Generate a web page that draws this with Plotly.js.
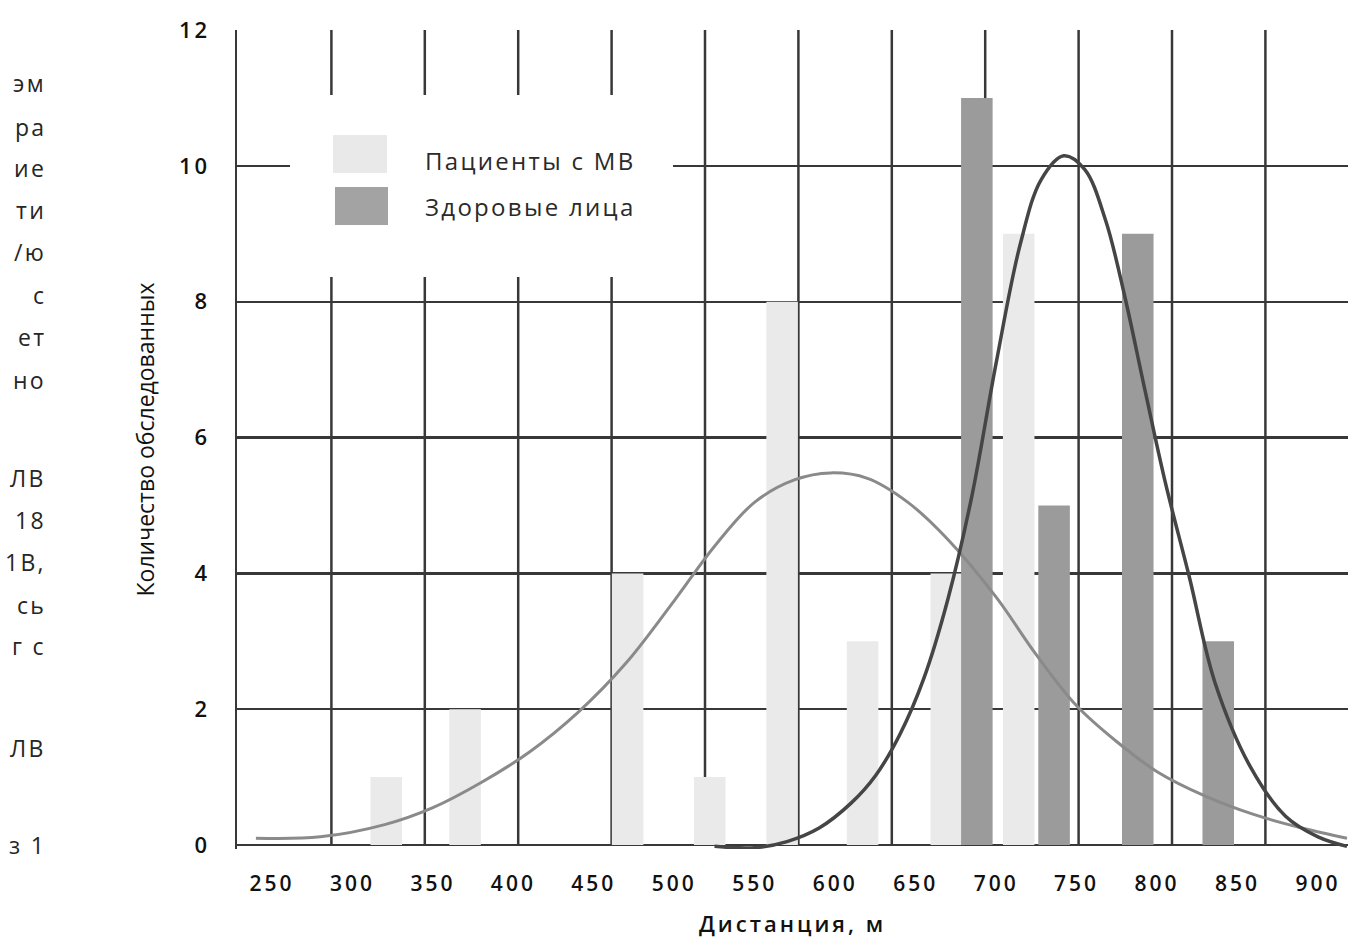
<!DOCTYPE html>
<html>
<head>
<meta charset="utf-8">
<script src="https://cdn.plot.ly/plotly-3.0.1.min.js"></script>
<style>
  html, body { margin: 0; padding: 0; background: #fff; }
  #chart { width: 1348px; height: 940px; }
  .xtick text, .ytick text { letter-spacing: 3px; }
  .g-xtitle text { letter-spacing: 3px; }
  .annotation-text { letter-spacing: 2.3px; }
</style>
</head>
<body>
<div id="chart"></div>
<script>
// ---- data ----
const patientsName = 'Пациенты с МВ';
const healthyName = 'Здоровые лица';

// histogram bars (distance, m  -> number of subjects)
const patientsBinX = [321, 370, 471, 522, 567, 617, 669, 714];
const patientsCount = [1, 2, 4, 1, 8, 3, 4, 9];
const healthyBinX = [688, 736, 788, 838];
const healthyCount = [11, 5, 9, 3];

// fitted distribution curves
const patientsCurveX = [240, 280, 320, 350, 380, 410, 440, 470, 500, 525, 550, 575, 597, 620, 645, 670, 700, 725, 750, 775, 800, 830, 860, 890, 918];
const patientsCurveY = [0.10, 0.12, 0.30, 0.55, 0.92, 1.37, 1.95, 2.68, 3.60, 4.40, 5.05, 5.38, 5.48, 5.40, 5.05, 4.50, 3.65, 2.80, 2.05, 1.52, 1.08, 0.72, 0.45, 0.25, 0.10];
const healthyCurveX = [525, 550, 570, 590, 610, 625, 640, 655, 670, 685, 700, 715, 728, 742, 755, 768, 780, 792, 805, 820, 836, 858, 880, 900, 918];
const healthyCurveY = [-0.02, -0.04, 0.05, 0.25, 0.62, 1.02, 1.62, 2.45, 3.62, 5.15, 7.1, 8.85, 9.8, 10.15, 9.95, 9.2, 8.07, 6.75, 5.35, 3.95, 2.39, 1.15, 0.42, 0.12, -0.02];

// axis ticks
const xTickVals = [250, 300, 350, 400, 450, 500, 550, 600, 650, 700, 750, 800, 850, 900];
const yTickVals = [0, 2, 4, 6, 8, 10, 12];

// cut-off text of the book page at the left edge
const pageFragments = ['эм', 'ра', 'ие', 'ти', '/ю', 'с', 'ет', 'но', 'ЛВ', '18', '1В,', 'сь', 'г с', 'ЛВ', 'з 1'];
const pageFragmentRows = [83, 127, 168, 210, 252, 295, 337, 380, 478, 520, 562, 605, 646, 748, 845];

// ---- styling ----
const GRID = '#383838';
const LIGHT = '#eaeaea';
const DARK = '#9b9b9b';
const FONT = '"Open Sans", "Noto Sans", sans-serif';
const BAR_W = 19.6;

const traces = [
  { type: 'bar', name: patientsName, x: patientsBinX, y: patientsCount, width: BAR_W,
    marker: { color: LIGHT, line: { width: 0 } }, showlegend: false, hoverinfo: 'x+y' },
  { type: 'bar', name: healthyName, x: healthyBinX, y: healthyCount, width: BAR_W,
    marker: { color: DARK, line: { width: 0 } }, showlegend: false, hoverinfo: 'x+y' },
  { type: 'scatter', mode: 'lines', name: patientsName + ' (кривая)', x: patientsCurveX, y: patientsCurveY,
    line: { color: '#8a8a8a', width: 3, shape: 'spline', smoothing: 1 }, showlegend: false },
  { type: 'scatter', mode: 'lines', name: healthyName + ' (кривая)', x: healthyCurveX, y: healthyCurveY,
    line: { color: '#454545', width: 3.5, shape: 'spline', smoothing: 1 }, showlegend: false }
];

// plot-area pixel helpers for the page furniture (grid, legend box, side text)
const L = 237, R = 1348, T = 30, B = 849;
const px = v => (v - L) / (R - L);
const py = v => (B - v) / (B - T);

// the drawn vertical grid does not follow the tick labels: it has its own spacing
const VGRID_START = 238, VGRID_STEP = 93.4, VGRID_COUNT = 12;
const shapes = [];
for (let k = 1; k < VGRID_COUNT; k++) {
  const gx = px(VGRID_START + k * VGRID_STEP);
  shapes.push({ type: 'line', xref: 'paper', yref: 'paper', x0: gx, x1: gx, y0: py(845), y1: 1,
    line: { color: GRID, width: 2.5 }, layer: 'below' });
}
shapes.push(
  { type: 'rect', xref: 'paper', yref: 'paper', x0: px(290), x1: px(673), y0: py(277), y1: py(95),
    fillcolor: '#ffffff', line: { width: 0 }, layer: 'above' },
  { type: 'rect', xref: 'paper', yref: 'paper', x0: px(333), x1: px(387), y0: py(173), y1: py(135),
    fillcolor: '#e9e9e9', line: { width: 0 }, layer: 'above' },
  { type: 'rect', xref: 'paper', yref: 'paper', x0: px(335), x1: px(388), y0: py(225), y1: py(187),
    fillcolor: '#a3a3a3', line: { width: 0 }, layer: 'above' }
);

const annotations = [
  { xref: 'paper', yref: 'paper', x: px(423), y: py(160), xanchor: 'left', yanchor: 'middle',
    text: patientsName, showarrow: false, font: { family: FONT, size: 24, color: '#2a2a2a' } },
  { xref: 'paper', yref: 'paper', x: px(423), y: py(206), xanchor: 'left', yanchor: 'middle',
    text: healthyName, showarrow: false, font: { family: FONT, size: 24, color: '#2a2a2a' } }
];
pageFragments.forEach((t, i) => {
  annotations.push({ xref: 'paper', yref: 'paper', x: px(48), y: py(pageFragmentRows[i]),
    xanchor: 'right', yanchor: 'middle', text: t, showarrow: false,
    font: { family: FONT, size: 23, color: '#262626' } });
});

const layout = {
  width: 1348, height: 940,
  margin: { l: L, r: 0, t: T, b: 940 - B, pad: 0 },
  paper_bgcolor: '#ffffff', plot_bgcolor: '#ffffff',
  font: { family: FONT, color: '#111' },
  barmode: 'overlay',
  showlegend: false,
  xaxis: {
    range: [228.25, 918.64], tickvals: xTickVals, ticks: '', showgrid: false,
    zeroline: false, showline: false, ticklabelstandoff: 20,
    tickfont: { family: FONT, size: 21, color: '#111', weight: 600 },
    title: { text: 'Дистанция, м', font: { family: FONT, size: 22, color: '#111', weight: 600 }, standoff: 20 }
  },
  yaxis: {
    range: [-0.0589, 12.002], tickvals: yTickVals, ticks: '',
    showgrid: true, gridcolor: GRID, gridwidth: 2.5,
    zeroline: true, zerolinecolor: GRID, zerolinewidth: 2.5,
    showline: true, linecolor: GRID, linewidth: 2.5,
    ticklabelstandoff: 20,
    tickfont: { family: FONT, size: 22, color: '#111', weight: 600 },
    title: { text: 'Количество обследованных', font: { family: FONT, size: 23, color: '#111' }, standoff: 18 }
  },
  shapes: shapes,
  annotations: annotations
};

Plotly.newPlot('chart', traces, layout, { displayModeBar: false, staticPlot: true });
</script>
</body>
</html>
